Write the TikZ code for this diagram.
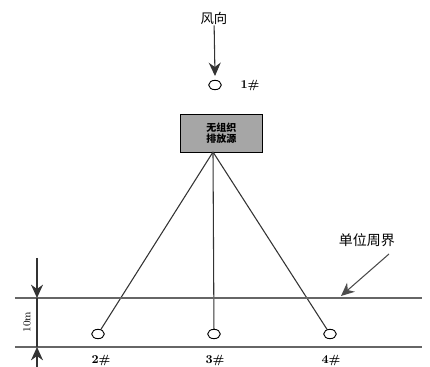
\documentclass[tikz,border=0pt]{standalone}
\usepackage{fontspec}
\newfontfamily\cjk{Noto Sans CJK SC}
\usepackage{tikz}
\usetikzlibrary{arrows.meta,shapes.geometric}
\tikzset{
  spot/.style={draw,ellipse,fill=white,line width=0.7pt,minimum width=9.5pt,minimum height=7pt,inner sep=0pt},
  tag/.style={inner sep=0.75pt,font=\bfseries\small},
  bigarr/.style={-{Stealth[length=10pt,width=9pt]},line width=0.8pt},
  rim/.style={draw=black!60,line width=0.8pt},
}

\begin{document}
\begin{tikzpicture}[x=0.75pt,y=0.75pt,yscale=-1,xscale=1]
\useasboundingbox (0,0) rectangle (430,367);

%Source box
\node [draw,line width=0.8pt,fill=black!35,minimum width=62pt,minimum height=28pt,inner sep=0pt,align=center,font=\cjk\bfseries\fontsize{7.5}{8.5}\selectfont] (src) at (221.5,133.5) {无组织\\排放源};
\coordinate (srcfoot) at (213,152);

%Sampling points
\node [spot] (p1) at (215,85) {};
\node [spot] (p2) at (98,334) {};
\node [spot] (p3) at (214,334) {};
\node [spot] (p4) at (330,334) {};

%Straight Lines
\draw [black!80,line width=0.8pt] (srcfoot) -- (p2);
\draw [black!80,line width=0.8pt] (srcfoot) -- (p3);
\draw [black!80,line width=0.8pt] (srcfoot) -- (p4);

%Boundary lines
\coordinate (ul) at (15,298);
\coordinate (ur) at (422,298);
\coordinate (ll) at (15,347);
\coordinate (lr) at (422,347);
\draw [rim] (ul) -- (ur);
\draw [rim] (ll) -- (lr);

%Wind arrow
\node [inner sep=0.75pt,font=\cjk\fontsize{10}{12}\selectfont] (wind) at (214,18) {风向};
\coordinate (windtip) at (215,76);
\draw [bigarr,black!80] (wind) -- (windtip);

%Boundary arrow
\node [inner sep=0.75pt,font=\cjk\fontsize{10.5}{12}\selectfont] (bound) at (367,240) {单位周界};
\coordinate (boundtail) at (389,254);
\coordinate (boundtip) at (341,296);
\draw [bigarr,black!70] (boundtail) -- (boundtip);

%Dimension 10m
\coordinate (dtop) at (37,258);
\coordinate (dup) at (37,298);
\coordinate (dlow) at (37,347);
\coordinate (dbot) at (37,368);
\draw [bigarr,black!80] (dtop) -- (dup);
\draw [black!80,line width=0.8pt] (dup) -- (dlow);
\draw [bigarr,black!80] (dbot) -- (dlow);
% Text Node
\node [inner sep=0.75pt,rotate=90,font=\fontsize{8}{9}\selectfont] (gap) at (27,322) {10m};

% Text Node
\node [tag] (t1) at (250,86) {1\#};
% Text Node
\node [tag] (t2) at (101,361) {2\#};
% Text Node
\node [tag] (t3) at (215,361) {3\#};
% Text Node
\node [tag] (t4) at (331,361) {4\#};
\end{tikzpicture}
\end{document}
